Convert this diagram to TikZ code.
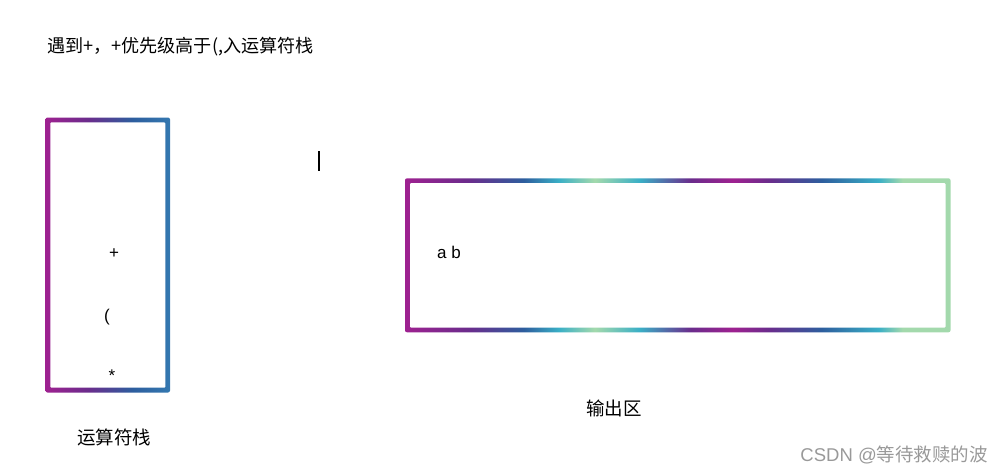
\documentclass[tikz,border=0pt]{standalone}
\usepackage{fontspec}
\setmainfont{Liberation Sans}
\newfontfamily\cjk{Noto Sans CJK SC}
\definecolor{cM}{HTML}{9E2190}
\definecolor{cP}{HTML}{6B2C8C}
\definecolor{cB}{HTML}{2D5E9E}
\definecolor{cB2}{HTML}{3478B0}
\definecolor{cC}{HTML}{3AAFC6}
\definecolor{cG}{HTML}{A3D9AC}
\pgfdeclarehorizontalshading{outshade}{100bp}{color(0bp)=(cM); color(25bp)=(cM); color(30.8bp)=(cP); color(35.9bp)=(cB); color(39.1bp)=(cC); color(42.4bp)=(cG); color(46.5bp)=(cC); color(51.2bp)=(cP); color(55.1bp)=(cM); color(58.3bp)=(cP); color(63.2bp)=(cB); color(68.4bp)=(cC); color(70.6bp)=(cG); color(75bp)=(cG); color(100bp)=(cG)}
\pgfdeclarehorizontalshading{stackshade}{100bp}{color(0bp)=(cM); color(25bp)=(cM); color(42bp)=(cP); color(60bp)=(cB); color(75bp)=(cB2); color(100bp)=(cB2)}
\tikzset{
  lbl/.style={inner sep=0pt, font=\fontsize{17}{20}\selectfont},
  cjklbl/.style={inner sep=0pt, font=\fontsize{18.5}{22}\selectfont\cjk},
  inner/.style={fill=white, draw=none, inner sep=0pt, rounded corners=1pt},
}
\begin{document}
\begin{tikzpicture}[x=1pt,y=-1pt]
\useasboundingbox (0,0) rectangle (1005,474);
% title
\node[cjklbl, font=\fontsize{18.1}{21}\selectfont\cjk, anchor=west] (title) at (47,47) {遇到+，+优先级高于(,入运算符栈};
% stack box
\path[shading=stackshade, rounded corners=2pt] (45.5,117.5) rectangle (170,392.5);
\node[inner, minimum width=115pt, minimum height=265.4pt] (stack) at (107.8,255) {};
% output box
\path[shading=outshade, rounded corners=2pt] (405,178.3) rectangle (950.5,332.3);
\node[inner, minimum width=535.5pt, minimum height=144.4pt] (out) at (677.75,255.3) {};
% stack contents
\node[lbl] (plus) at (114,254) {+};
\node[lbl] (paren) at (107,317) {(};
\node[lbl] (star) at (112,376) {*};
\node[lbl] (ab) at (449,252) {a b};
% labels
\node[cjklbl] (stacklbl) at (114,437) {运算符栈};
\node[cjklbl] (outlbl) at (614,408) {输出区};
% cursor
\coordinate (c1) at (319,151);
\coordinate (c2) at (319,171);
\draw[line width=1.2pt, black] (c1) -- (c2);
% watermark
\node[anchor=east, inner sep=0pt, text=black!40, font=\fontsize{18.5}{22}\selectfont] (wm) at (988,455) {CSDN @{\cjk 等待救赎的波}};
\end{tikzpicture}
\end{document}
